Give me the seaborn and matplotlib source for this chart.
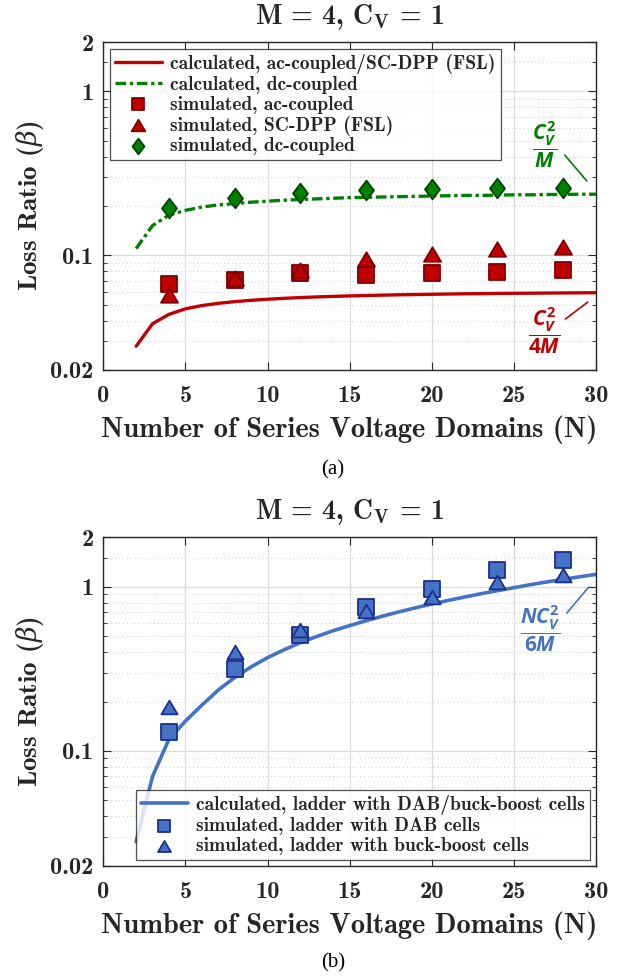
import numpy as np
import pandas as pd
import matplotlib
matplotlib.use("Agg")
import matplotlib.pyplot as plt
import seaborn as sns
from matplotlib.path import Path
from matplotlib.ticker import FixedLocator, FixedFormatter, NullFormatter

# ---- data ----
n_calc = list(range(2, 31))
ac_calc = [0.0279, 0.0383, 0.0437, 0.0472, 0.0494, 0.0510, 0.0522, 0.0532, 0.0540,
           0.0547, 0.0553, 0.0558, 0.0562, 0.0566, 0.0569, 0.0572, 0.0575, 0.0577,
           0.0579, 0.0581, 0.0583, 0.0584, 0.0586, 0.0587, 0.0588, 0.0589, 0.0590,
           0.0591, 0.0592]
dc_calc = [0.110, 0.152, 0.176, 0.188, 0.197, 0.203, 0.207, 0.211, 0.214, 0.217,
           0.219, 0.221, 0.223, 0.225, 0.226, 0.227, 0.228, 0.229, 0.230, 0.231,
           0.232, 0.232, 0.233, 0.234, 0.234, 0.235, 0.235, 0.236, 0.236]
ladder_calc = [0.028, 0.070, 0.118, 0.152, 0.190, 0.235, 0.280, 0.325, 0.370, 0.413,
               0.457, 0.498, 0.540, 0.580, 0.621, 0.662, 0.703, 0.744, 0.785, 0.826,
               0.866, 0.907, 0.947, 0.987, 1.03, 1.07, 1.11, 1.15, 1.19]

n_sim = [4, 8, 12, 16, 20, 24, 28]
ac_sim = [0.0665, 0.0711, 0.0784, 0.0755, 0.0784, 0.0796, 0.081]
scdpp_sim = [0.057, 0.0727, 0.081, 0.0955, 0.1025, 0.109, 0.112]
dc_sim = [0.194, 0.223, 0.240, 0.252, 0.253, 0.257, 0.259]
dab_sim = [0.131, 0.316, 0.51, 0.75, 0.976, 1.26, 1.46]
bb_sim = [0.186, 0.40, 0.545, 0.707, 0.87, 1.07, 1.18]

ytick_vals = [0.02, 0.1, 1, 2]
ytick_labels = ["0.02", "0.1", "1", "2"]
xtick_vals = [0, 5, 10, 15, 20, 25, 30]

RED, RED_E = "#c00000", "#7a0000"
GREEN, GREEN_E = "#008000", "#004400"
BLUE, BLUE_E = "#4472c4", "#1c2f8c"
TXT = "#262626"

# wider-than-tall triangle and tall diamond, like the reference
TRI = Path([(-1, -0.85), (1, -0.85), (0, 0.85), (-1, -0.85)], closed=True)
DIA = Path([(0, 1), (0.76, 0), (0, -1), (-0.76, 0), (0, 1)], closed=True)

sns.set_style("ticks")
plt.rcParams["font.family"] = ["cmb10", "DejaVu Serif"]
plt.rcParams["mathtext.fontset"] = "custom"
plt.rcParams["mathtext.bf"] = "cmb10"
plt.rcParams["mathtext.it"] = "Open Sans:italic:bold"
plt.rcParams["mathtext.rm"] = "Open Sans:bold"
plt.rcParams["mathtext.sf"] = "DejaVu Serif:italic"
plt.rcParams["text.color"] = TXT
plt.rcParams["axes.labelcolor"] = TXT
plt.rcParams["xtick.color"] = TXT
plt.rcParams["ytick.color"] = TXT
plt.rcParams["axes.edgecolor"] = TXT

calc_df = pd.DataFrame({"N": n_calc, "ac": ac_calc, "dc": dc_calc, "ladder": ladder_calc})
sim_df = pd.DataFrame({"N": n_sim, "ac": ac_sim, "scdpp": scdpp_sim, "dc": dc_sim,
                       "dab": dab_sim, "bb": bb_sim})

fig = plt.figure(figsize=(6.29, 9.77), dpi=100)
ax1 = fig.add_axes([0.1642, 0.6213, 0.7833, 0.3357])
ax2 = fig.add_axes([0.1642, 0.1139, 0.7833, 0.3361])


def style_axes(ax):
    ax.set_yscale("log")
    ax.set_ylim(0.02, 2)
    ax.set_xlim(0, 30)
    ax.yaxis.set_major_locator(FixedLocator(ytick_vals))
    ax.yaxis.set_major_formatter(FixedFormatter(ytick_labels))
    minors = [v * d for d in (0.01, 0.1) for v in range(2, 10)] + [1.5]
    minors = [m for m in minors if m not in (0.02, 0.1, 1, 2) and m > 0.02]
    ax.yaxis.set_minor_locator(FixedLocator(minors))
    ax.yaxis.set_minor_formatter(NullFormatter())
    ax.set_xticks(xtick_vals)
    ax.tick_params(axis="both", which="major", direction="in", length=6,
                   top=True, right=True, labelsize=17.5)
    ax.tick_params(axis="x", which="major", pad=11)
    ax.tick_params(axis="y", which="major", pad=7)
    ax.tick_params(axis="y", which="minor", direction="in", length=3, right=True)
    ax.grid(True, which="major", color="#dcdcdc", lw=0.9, ls="-")
    ax.grid(True, which="minor", axis="y", color="#c8c8c8", lw=0.7, ls=(0, (1, 3)))
    ax.set_axisbelow(True)
    for s in ax.spines.values():
        s.set_linewidth(1.0)
    ax.set_xlabel("Number of Series Voltage Domains (N)", fontsize=20.5, labelpad=6)
    ax.set_ylabel(r"Loss Ratio ($\mathsf{\beta}$)", fontsize=19.5, labelpad=3)
    ax.set_title(r"M = 4, $\mathbf{C_V}$ = 1", fontsize=20, pad=13)


# ---- panel (a) ----
sns.lineplot(data=calc_df, x="N", y="ac", ax=ax1, color=RED, lw=2.4,
             label="calculated, ac-coupled/SC-DPP (FSL)")
sns.lineplot(data=calc_df, x="N", y="dc", ax=ax1, color=GREEN, lw=2.4,
             ls=(0, (3.2, 1.1, 1.0, 1.1)), label="calculated, dc-coupled")
sns.scatterplot(data=sim_df, x="N", y="ac", ax=ax1, marker="s", s=130,
                color=RED, edgecolor=RED_E, linewidth=1.3, zorder=3,
                label="simulated, ac-coupled")
sns.scatterplot(data=sim_df, x="N", y="scdpp", ax=ax1, marker=TRI, s=150,
                color=RED, edgecolor=RED_E, linewidth=1.3, zorder=3,
                label="simulated, SC-DPP (FSL)")
sns.scatterplot(data=sim_df, x="N", y="dc", ax=ax1, marker=DIA, s=200,
                color=GREEN, edgecolor=GREEN_E, linewidth=1.3, zorder=3,
                label="simulated, dc-coupled")
style_axes(ax1)
leg1 = ax1.legend(loc="upper left", fontsize=14, frameon=True, fancybox=False,
                  edgecolor=TXT, handlelength=2.4, handletextpad=0.45,
                  borderpad=0.25, labelspacing=0.1, borderaxespad=0.35,
                  markerscale=0.8)
leg1.get_frame().set_linewidth(0.9)

ax1.text(26.87, 0.47, r"$\dfrac{C_V^2}{M}$", color=GREEN, fontsize=15,
         ha="center", va="center")
ax1.plot([28.1, 29.44], [0.409, 0.284], color=GREEN, lw=1.2)
ax1.text(26.82, 0.0348, r"$\dfrac{C_V^2}{4M}$", color=RED, fontsize=15,
         ha="center", va="center")
ax1.plot([28.14, 29.5], [0.0409, 0.0519], color=RED, lw=1.2)

# ---- panel (b) ----
sns.lineplot(data=calc_df, x="N", y="ladder", ax=ax2, color=BLUE, lw=2.6,
             label="calculated, ladder with DAB/buck-boost cells")
sns.scatterplot(data=sim_df, x="N", y="dab", ax=ax2, marker="s", s=130,
                color=BLUE, edgecolor=BLUE_E, linewidth=1.3, zorder=3,
                label="simulated, ladder with DAB cells")
sns.scatterplot(data=sim_df, x="N", y="bb", ax=ax2, marker=TRI, s=135,
                color=BLUE, edgecolor=BLUE_E, linewidth=1.3, zorder=3,
                label="simulated, ladder with buck-boost cells")
style_axes(ax2)
leg2 = ax2.legend(loc="lower right", fontsize=14, frameon=True, fancybox=False,
                  edgecolor=TXT, handlelength=2.4, handletextpad=0.45,
                  borderpad=0.25, labelspacing=0.1, borderaxespad=0.3,
                  markerscale=0.8)
leg2.get_frame().set_linewidth(0.9)

ax2.text(26.6, 0.553, r"$\dfrac{NC_V^2}{6M}$", color=BLUE, fontsize=15,
         ha="center", va="center")
ax2.plot([28.22, 29.56], [0.691, 0.996], color=BLUE, lw=1.2)

fig.text(333 / 629, 1 - 470 / 977, "(a)", family="Liberation Serif", fontsize=15,
         ha="center", va="center", color="black")
fig.text(333 / 629, 1 - 963 / 977, "(b)", family="Liberation Serif", fontsize=15,
         ha="center", va="center", color="black")

fig.savefig("out.png", dpi=100)
